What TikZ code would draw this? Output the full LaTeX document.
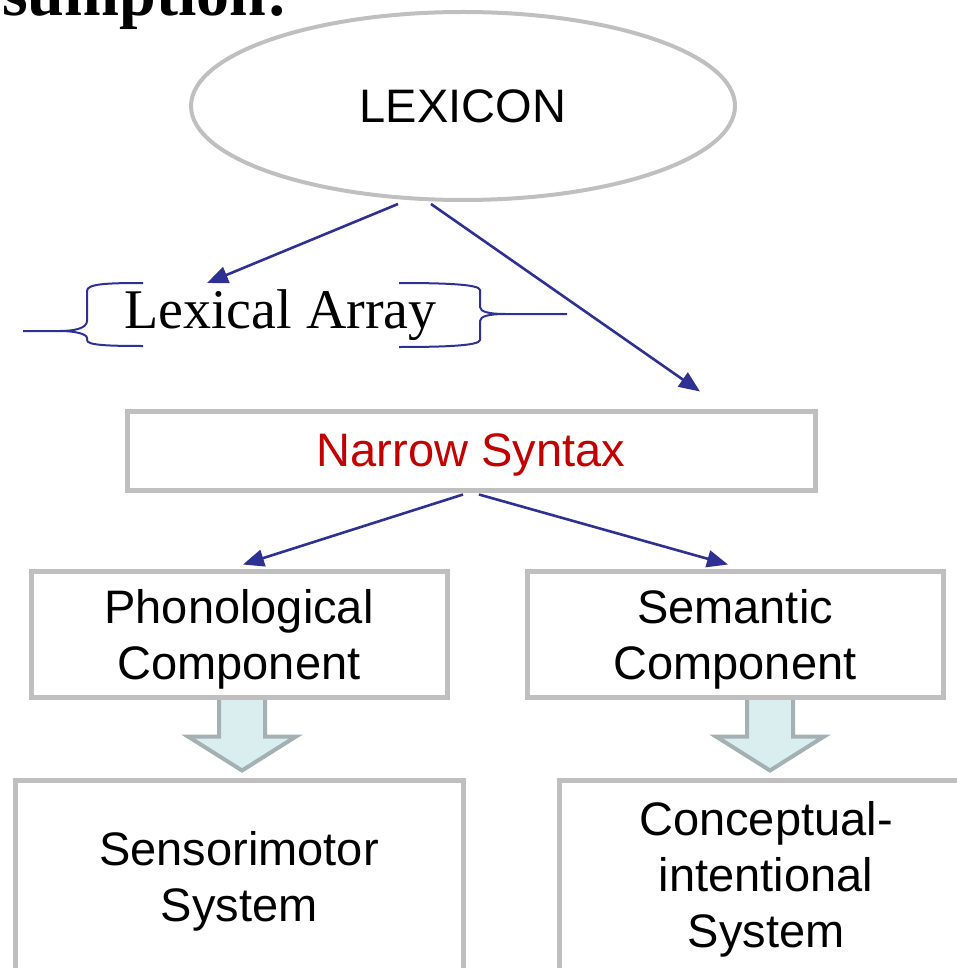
\documentclass[tikz,border=0pt]{standalone}
\usepackage{fontspec}
\setmainfont{Liberation Serif}
\setsansfont{Liberation Sans}
\usetikzlibrary{shapes.geometric,arrows.meta,calc}
\definecolor{navy}{HTML}{2E3192}
\definecolor{boxgray}{HTML}{BFBFBF}
\definecolor{nsred}{HTML}{C00000}
\definecolor{bafill}{HTML}{DAEEF0}
\definecolor{baline}{HTML}{A3B1B2}
\begin{document}
\begin{tikzpicture}[x=1pt,y=-1pt,
  box/.style={draw=boxgray,line width=5pt,fill=white,rectangle,inner sep=0pt},
  sanstxt/.style={font=\fontsize{47}{56}\selectfont\sffamily,align=center,inner sep=0pt},
  seriftxt/.style={font=\fontsize{56}{60}\selectfont,inner sep=0pt},
  titletxt/.style={font=\fontsize{66}{70}\selectfont\bfseries,inner sep=0pt},
  link/.style={draw=navy,line width=2.6pt,-{Triangle[length=21pt,width=17pt]}},
  bracestyle/.style={draw=navy,line width=2pt},
  blockarrow/.style={fill=bafill,draw=baline,line width=4pt,line join=miter}]
\useasboundingbox (0,0) rectangle (957,968);
\clip (0,0) rectangle (957,968);

\node[titletxt,anchor=base west] (title) at (2,16) {sumption:};

\node[ellipse,draw=boxgray,line width=4pt,minimum width=544pt,minimum height=188pt,
      inner sep=0pt,sanstxt,text depth=0pt] (lexicon) at (463,106) {LEXICON};

\node[seriftxt,anchor=base west] (lexarr) at (124,328) {Lexical Array};

% braces
\draw[bracestyle] (143,283) .. controls (105,283) and (87,284) .. (87,291) -- (87,321)
   .. controls (87,328) and (75,331) .. (60,331) -- (23,331);
\draw[bracestyle] (60,331) .. controls (75,331) and (87,334) .. (87,338) -- (87,340)
   .. controls (87,345) and (105,346) .. (143,346);
\draw[bracestyle] (399,283) .. controls (440,283) and (480,284) .. (480,290) -- (480,307)
   .. controls (480,312) and (490,314) .. (505,314) -- (567,314);
\draw[bracestyle] (505,314) .. controls (490,314) and (480,316) .. (480,321) -- (480,340)
   .. controls (480,346) and (440,347) .. (399,347);

\node[box,minimum width=688pt,minimum height=79pt,sanstxt,text=nsred,text depth=0pt]
  (narrow) at (471,450.5) {Narrow Syntax};

\node[box,minimum width=448pt,minimum height=240pt] (sensor) at (239,900) {};
\node[box,minimum width=415pt,minimum height=240pt] (concept) at (767,900) {};

\begin{scope}[shift={(sensor.north)}]
  \draw[blockarrow] (-20,-83) -- (-20,-41) -- (-51,-41) -- (3,-7) -- (57,-41) -- (26,-41) -- (26,-83) -- cycle;
\end{scope}
\begin{scope}[shift={(concept.north)}]
  \draw[blockarrow] (-20,-83) -- (-20,-41) -- (-51,-41) -- (3,-7) -- (57,-41) -- (26,-41) -- (26,-83) -- cycle;
\end{scope}

\node[box,minimum width=416pt,minimum height=126pt] (phon) at (239,634) {};
\node[box,minimum width=416pt,minimum height=126pt] (sem) at (735,634) {};

\node[sanstxt] (phonT) at (239,639) {Phonological\\Component};
\node[sanstxt] (semT) at (735,639) {Semantic\\Component};
\node[sanstxt] (sensorT) at (239,881) {Sensorimotor\\System};
\node[sanstxt] (conceptT) at (766,879) {Conceptual-\\intentional\\System};

\draw[link] ($(lexicon.south)+(-65,2)$) -- ($(lexarr.base west)+(83,-45)$);
\draw[link] ($(lexicon.south)+(-32,2)$) -- ($(narrow.north)+(229,-17)$);
\draw[link] ($(narrow.south)+(-8,2)$) -- ($(phon.north)+(4,-4)$);
\draw[link] ($(narrow.south)+(8,2)$) -- ($(sem.north)+(-7,-4)$);
\end{tikzpicture}
\end{document}
